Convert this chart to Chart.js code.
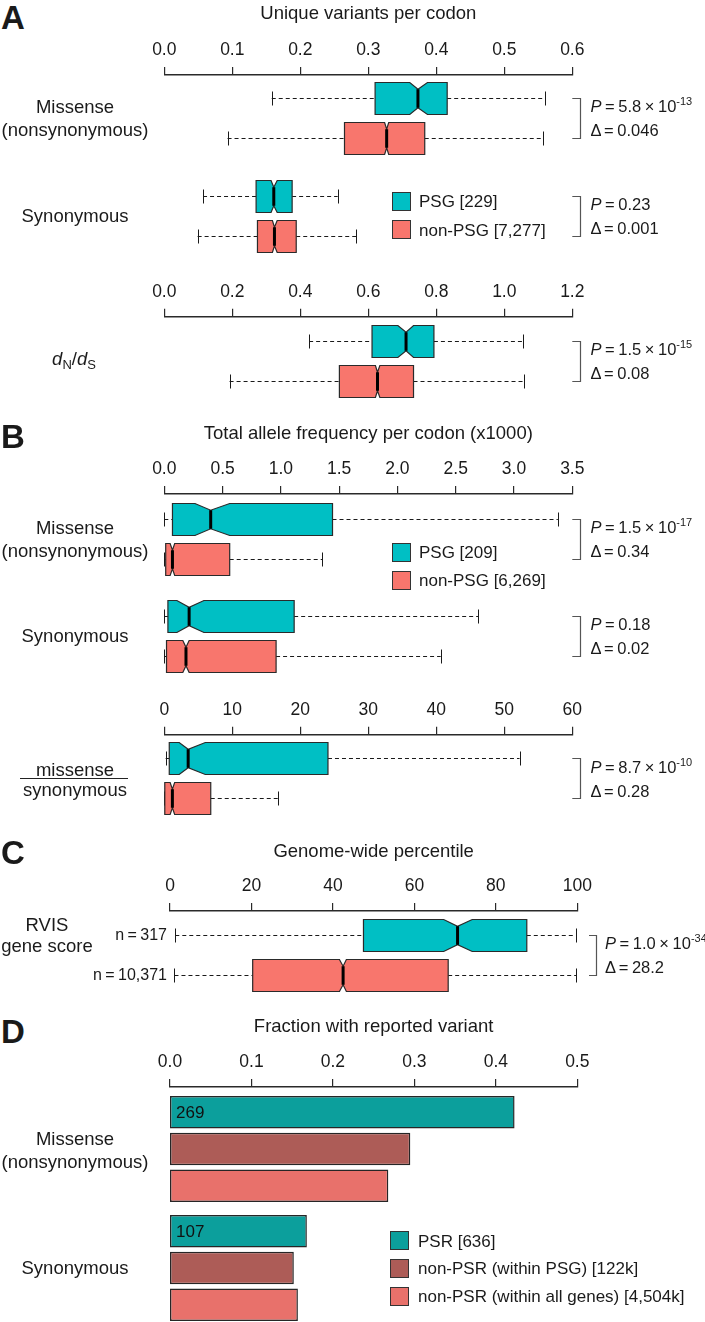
<!DOCTYPE html>
<html>
<head>
<meta charset="utf-8">
<script src="https://cdn.jsdelivr.net/npm/chart.js@4.4.1/dist/chart.umd.min.js"></script>
<style>
  html, body { margin: 0; padding: 0; background: #fff; }
  body { width: 705px; height: 1322px; position: relative; overflow: hidden;
         font-family: 'Liberation Sans', Arial, Helvetica, sans-serif; color: #1a1a1a; }
  canvas { position: absolute; left: 0; }
  .t { position: absolute; white-space: nowrap; line-height: 1; }
  .sup { font-size: 11px; position: relative; top: -7px; }
  .sub { font-size: 13px; position: relative; top: 4px; }
  .key { position: absolute; width: 19px; height: 19px; box-sizing: border-box; border: 1px solid #333; }
</style>
</head>
<body>
<script>
// ---- data (box rows: whisker lo, Q1, notch lo, median, notch hi, Q3, whisker hi) ----
const groupLabels = ['PSG', 'non-PSG'];

// A: unique variants per codon
const uvTicks = ['0.0', '0.1', '0.2', '0.3', '0.4', '0.5', '0.6'];
const uvMissensePSG = [0.158, 0.310, 0.361, 0.373, 0.387, 0.416, 0.560];
const uvMissenseNon = [0.093, 0.265, 0.324, 0.327, 0.330, 0.383, 0.557];
const uvSynPSG = [0.057, 0.135, 0.157, 0.161, 0.166, 0.188, 0.255];
const uvSynNon = [0.049, 0.137, 0.159, 0.162, 0.166, 0.194, 0.282];
// A: dN/dS
const dndsTicks = ['0.0', '0.2', '0.4', '0.6', '0.8', '1.0', '1.2'];
const dndsPSG = [0.426, 0.611, 0.687, 0.711, 0.733, 0.793, 1.056];
const dndsNon = [0.192, 0.515, 0.621, 0.627, 0.634, 0.733, 1.058];

// B: total allele frequency per codon (x1000)
const afTicks = ['0.0', '0.5', '1.0', '1.5', '2.0', '2.5', '3.0', '3.5'];
const afMissensePSG = [0.0, 0.070, 0.263, 0.398, 0.561, 1.443, 3.376];
const afMissenseNon = [0.0, 0.012, 0.050, 0.070, 0.089, 0.561, 1.354];
const afSynPSG = [0.0, 0.031, 0.108, 0.213, 0.340, 1.114, 2.692];
const afSynNon = [0.0, 0.019, 0.159, 0.186, 0.213, 0.959, 2.371];
// B: missense / synonymous
const ratioTicks = ['0', '10', '20', '30', '40', '50', '60'];
const ratioPSG = [0.2, 0.73, 2.19, 3.51, 6.03, 24.07, 52.24];
const ratioNon = [0.0, 0.07, 0.86, 1.19, 1.52, 6.83, 16.77];

// C: RVIS genome-wide percentile
const rvisTicks = ['0', '20', '40', '60', '80', '100'];
const rvisPSG = [1.3, 47.5, 67.2, 70.6, 74.2, 87.6, 99.6];
const rvisNon = [1.1, 20.3, 41.6, 42.5, 43.3, 68.3, 99.8];
const rvisN = ['317', '10,371'];

// D: fraction with reported variant
const fracTicks = ['0.0', '0.1', '0.2', '0.3', '0.4', '0.5'];
const psrLabels = ['PSR [636]', 'non-PSR (within PSG) [122k]', 'non-PSR (within all genes) [4,504k]'];
const fracMissense = [0.423, 0.295, 0.268];
const fracSynonymous = [0.168, 0.152, 0.157];
const psrCounts = [269, 107];

// stats, top to bottom
const pMantissa = ['5.8', '0.23', '1.5', '1.5', '0.18', '8.7', '1.0'];
const pExponent = [-13, null, -15, -17, null, -10, -34];
const deltas = ['0.046', '0.001', '0.08', '0.34', '0.02', '0.28', '28.2'];

// ---- styling ----
const FONT = "'Liberation Sans', Arial, Helvetica, sans-serif";
const INK = '#1a1a1a';
const TEAL = '#00bfc4', SALMON = '#f8766d';
const D_COLORS = ['#0c9f9c', '#ad5c57', '#e8716b'];
const W = 705;
const AB = { left: 164.3, right: 572.3 };
const CD = { left: 170, right: 577.3 };

function addCanvas(top, h) {
  const c = document.createElement('canvas');
  c.width = W; c.height = Math.round(h);
  c.style.top = Math.round(top) + 'px';
  c.style.width = W + 'px'; c.style.height = Math.round(h) + 'px';
  document.body.appendChild(c);
  return c;
}

function text(html, x, y, size, align, extra) {
  const d = document.createElement('div');
  d.className = 't';
  d.innerHTML = html;
  d.style.fontSize = size + 'px';
  d.style.left = x + 'px';
  d.style.top = y + 'px';
  const tx = align === 'center' ? '-50%' : align === 'right' ? '-100%' : '0';
  d.style.transform = `translate(${tx}, -50%)`;
  if (align === 'center') d.style.textAlign = 'center';
  if (extra) Object.assign(d.style, extra);
  document.body.appendChild(d);
}

function base(area) {
  return {
    indexAxis: 'y', responsive: false, animation: false, events: [],
    layout: { padding: { left: area.left, right: W - area.right, top: 0, bottom: 0 } },
    plugins: { legend: { display: false }, tooltip: { enabled: false } }
  };
}

// axis-only chart: x scale drawn on top, with optional title
function axisChart(axisY, titleY, title, ticks, area) {
  const tickSize = 17.5, titleSize = 18.5, LH = 1.2;
  const tickLH = tickSize * LH, titleLH = titleSize * LH;
  const tl = 8, pad = 25 - tl - tickLH / 2;
  let top, padBottom = 0;
  if (title) {
    top = Math.round(titleY - titleLH / 2);
    padBottom = axisY - top - titleLH - tickLH - pad - tl;
  } else {
    top = Math.round(axisY - tl - pad - tickLH);
  }
  const scaleH = axisY - top;
  const padTop = title ? 0 : scaleH - (tl + pad + tickLH);
  // horizontal scales may take at most half the canvas height
  const canvas = addCanvas(top, 2 * scaleH + 8);
  const opts = base(area);
  opts.layout.padding.top = padTop;
  opts.scales = {
    x: {
      type: 'linear', position: 'top',
      min: parseFloat(ticks[0]), max: parseFloat(ticks[ticks.length - 1]),
      ticks: {
        stepSize: parseFloat(ticks[1]) - parseFloat(ticks[0]),
        padding: pad, color: INK, maxRotation: 0, autoSkip: false,
        font: { family: FONT, size: tickSize, lineHeight: LH },
        callback: (v, i) => ticks[i]
      },
      grid: { drawOnChartArea: false, tickLength: tl, color: '#2a2a2a', lineWidth: 1.2 },
      border: { color: '#2a2a2a', width: 1.5 },
      title: {
        display: !!title, text: title || '', color: INK,
        font: { family: FONT, size: titleSize, lineHeight: LH },
        padding: { top: 0, bottom: padBottom }
      }
    },
    y: { display: false }
  };
  new Chart(canvas, { type: 'bar', data: { labels: [''], datasets: [] }, options: opts });
}

// notched box plots drawn from the x scale and the bar element rows
function boxPlugin(rows, colors, bracket) {
  return {
    id: 'notchedBox',
    afterDatasetsDraw(chart) {
      const ctx = chart.ctx, x = chart.scales.x;
      const px = v => x.getPixelForValue(v);
      const bars = chart.getDatasetMeta(0).data;
      ctx.save();
      bars.forEach((bar, i) => {
        const r = rows[i], h = bar.height;
        const yc = Math.round(bar.y) + 0.5;
        const top = Math.round(bar.y - h / 2) + 0.5, bot = Math.round(bar.y + h / 2) + 0.5;
        const d = h * 0.21;
        ctx.strokeStyle = '#1a1a1a';
        ctx.lineWidth = 1;
        ctx.setLineDash([4, 3]);
        ctx.beginPath();
        ctx.moveTo(px(r[0]), yc); ctx.lineTo(px(r[1]), yc);
        ctx.moveTo(px(r[5]), yc); ctx.lineTo(px(r[6]), yc);
        ctx.stroke();
        ctx.setLineDash([]);
        ctx.beginPath();
        ctx.moveTo(Math.round(px(r[0])) + 0.5, yc - 7); ctx.lineTo(Math.round(px(r[0])) + 0.5, yc + 7);
        ctx.moveTo(Math.round(px(r[6])) + 0.5, yc - 7); ctx.lineTo(Math.round(px(r[6])) + 0.5, yc + 7);
        ctx.stroke();
        ctx.beginPath();
        ctx.moveTo(px(r[1]), top); ctx.lineTo(px(r[2]), top);
        ctx.lineTo(px(r[3]), top + d); ctx.lineTo(px(r[4]), top);
        ctx.lineTo(px(r[5]), top); ctx.lineTo(px(r[5]), bot);
        ctx.lineTo(px(r[4]), bot); ctx.lineTo(px(r[3]), bot - d);
        ctx.lineTo(px(r[2]), bot); ctx.lineTo(px(r[1]), bot);
        ctx.closePath();
        ctx.fillStyle = colors[i];
        ctx.fill();
        ctx.strokeStyle = '#2a2a2a';
        ctx.lineWidth = 1.2;
        ctx.stroke();
        ctx.lineWidth = 3;
        ctx.strokeStyle = '#000';
        ctx.beginPath();
        ctx.moveTo(px(r[3]), top + d); ctx.lineTo(px(r[3]), bot - d);
        ctx.stroke();
      });
      if (bracket) {
        const x0 = chart.chartArea.right + bracket[0];
        const x1 = Math.round(chart.chartArea.right + bracket[1]) + 0.5;
        const y0 = Math.round(bars[0].y) + 0.5, y1 = Math.round(bars[bars.length - 1].y) + 0.5;
        ctx.strokeStyle = '#555';
        ctx.lineWidth = 1.2;
        ctx.beginPath();
        ctx.moveTo(x0, y0); ctx.lineTo(x1, y0); ctx.lineTo(x1, y1); ctx.lineTo(x0, y1);
        ctx.stroke();
      }
      ctx.restore();
    }
  };
}

function boxChart(rowTop, pitch, ticks, area, rows, bracket) {
  const canvas = addCanvas(rowTop, pitch * rows.length);
  const opts = base(area);
  opts.scales = {
    x: { type: 'linear', display: false, min: parseFloat(ticks[0]), max: parseFloat(ticks[ticks.length - 1]) },
    y: { display: false }
  };
  new Chart(canvas, {
    type: 'bar',
    data: {
      labels: groupLabels,
      datasets: [{
        data: rows.map(r => [r[1], r[5]]),
        backgroundColor: 'rgba(0,0,0,0)', borderWidth: 0,
        barPercentage: 0.8, categoryPercentage: 1
      }]
    },
    options: opts,
    plugins: [boxPlugin(rows, [TEAL, SALMON], bracket)]
  });
}

function fracChart(rowTop, pitch, values, count) {
  const canvas = addCanvas(rowTop, pitch * values.length);
  const opts = base(CD);
  opts.scales = {
    x: { type: 'linear', display: false, min: parseFloat(fracTicks[0]), max: parseFloat(fracTicks[fracTicks.length - 1]) },
    y: { display: false }
  };
  new Chart(canvas, {
    type: 'bar',
    data: {
      labels: psrLabels,
      datasets: [{
        data: values, backgroundColor: D_COLORS, borderColor: '#262626',
        borderWidth: 1.5, borderSkipped: false,
        barPercentage: 0.886, categoryPercentage: 1
      }]
    },
    options: opts,
    plugins: [{
      id: 'count',
      afterDatasetsDraw(chart) {
        const bar = chart.getDatasetMeta(0).data[0];
        const ctx = chart.ctx;
        ctx.save();
        ctx.fillStyle = '#111';
        ctx.font = `17px ${FONT}`;
        ctx.textBaseline = 'middle';
        ctx.fillText(String(count), bar.base + 6, bar.y + 1);
        ctx.restore();
      }
    }]
  });
}

function stats(i, x, mid) {
  const p = pExponent[i] === null
    ? `<i>P</i> = ${pMantissa[i]}`
    : `<i>P</i> = ${pMantissa[i]} × 10<span class="sup">${pExponent[i]}</span>`;
  text(p, x, mid - 12, 16.5, 'left', { wordSpacing: '-1px' });
  text(`Δ = ${deltas[i]}`, x, mid + 12, 16.5, 'left', { wordSpacing: '-1px' });
}

function legend(x, ys, colors, labels, tx) {
  ys.forEach((y, i) => {
    const k = document.createElement('div');
    k.className = 'key';
    k.style.left = x + 'px';
    k.style.top = (y - 9.5) + 'px';
    k.style.background = colors[i];
    document.body.appendChild(k);
    text(labels[i], tx, y, 17, 'left');
  });
}

// ---- Panel A ----
text('<b>A</b>', 1, 17, 33, 'left');
axisChart(71, 14, 'Unique variants per codon', uvTicks, AB);
boxChart(78, 40, uvTicks, AB, [uvMissensePSG, uvMissenseNon], [0, 7.7]);
boxChart(176, 40, uvTicks, AB, [uvSynPSG, uvSynNon], [0, 7.7]);
axisChart(313, null, null, dndsTicks, AB);
boxChart(321, 40, dndsTicks, AB, [dndsPSG, dndsNon], [0, 7.7]);
text('Missense<br>(nonsynonymous)', 75, 118, 18.5, 'center', { lineHeight: '23px' });
text('Synonymous', 75, 216.3, 18.5, 'center');
text('<i>d</i><span class="sub">N</span>/<i>d</i><span class="sub">S</span>', 74, 359, 18.5, 'center');
stats(0, 590.4, 118);
stats(1, 590.4, 216.3);
stats(2, 590.4, 361);
legend(392, [201.3, 229.5], [TEAL, SALMON], ['PSG [229]', 'non-PSG [7,277]'], 419);

// ---- Panel B ----
text('<b>B</b>', 1, 436, 33, 'left');
axisChart(490, 434, 'Total allele frequency per codon (x1000)', afTicks, AB);
boxChart(499, 40, afTicks, AB, [afMissensePSG, afMissenseNon], [0, 7.7]);
boxChart(596, 40, afTicks, AB, [afSynPSG, afSynNon], [0, 7.7]);
axisChart(731, null, null, ratioTicks, AB);
boxChart(738, 40, ratioTicks, AB, [ratioPSG, ratioNon], [0, 7.7]);
text('Missense<br>(nonsynonymous)', 75, 538.7, 18.5, 'center', { lineHeight: '23px' });
text('Synonymous', 75, 636.3, 18.5, 'center');
text('missense', 75, 770, 18.5, 'center');
text('synonymous', 75, 790, 18.5, 'center');
const rule = document.createElement('div');
rule.style.cssText = 'position:absolute;left:20px;top:777.6px;width:108px;height:1.3px;background:#222;';
document.body.appendChild(rule);
stats(3, 590.4, 538.7);
stats(4, 590.4, 636.3);
stats(5, 590.4, 778.5);
legend(392, [552, 580], [TEAL, SALMON], ['PSG [209]', 'non-PSG [6,269]'], 419);

// ---- Panel C ----
text('<b>C</b>', 1, 852, 33, 'left');
axisChart(907, 851.7, 'Genome-wide percentile', rvisTicks, CD);
boxChart(915, 40, rvisTicks, CD, [rvisPSG, rvisNon], [11.7, 18.5]);
text('RVIS<br>gene score', 47, 936, 18.5, 'center', { lineHeight: '20.7px' });
text('n = ' + rvisN[0], 167, 935, 16, 'right', { wordSpacing: '-1px' });
text('n = ' + rvisN[1], 167, 975, 16, 'right', { wordSpacing: '-1px' });
stats(6, 605, 955);

// ---- Panel D ----
text('<b>D</b>', 1, 1031, 33, 'left');
axisChart(1083, 1026.7, 'Fraction with reported variant', fracTicks, CD);
fracChart(1094, 36.7, fracMissense, psrCounts[0]);
fracChart(1213, 36.7, fracSynonymous, psrCounts[1]);
text('Missense<br>(nonsynonymous)', 75, 1150, 18.5, 'center', { lineHeight: '23px' });
text('Synonymous', 75, 1268.3, 18.5, 'center');
legend(390.3, [1240.5, 1268.2, 1296], D_COLORS, psrLabels, 418);
</script>
</body>
</html>
